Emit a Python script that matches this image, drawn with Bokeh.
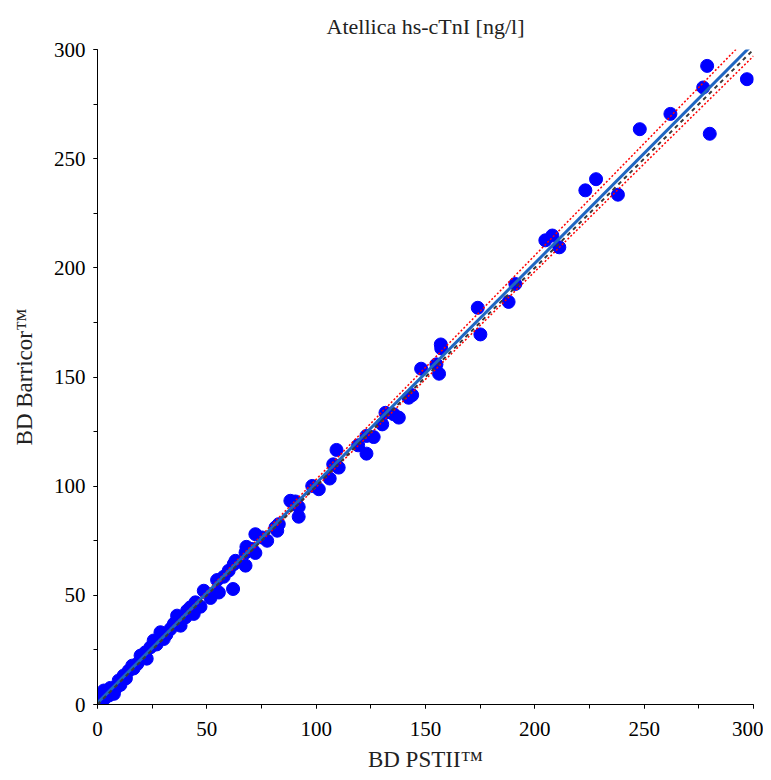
import numpy as np
from bokeh.plotting import figure
from bokeh.models import Range1d, SingleIntervalTicker, ColumnDataSource
from bokeh.embed import file_html
from bokeh.resources import INLINE

# Method comparison data (ng/l): BD PSTII (x) vs BD Barricor (y)
pst_ii = [278.8, 297.0, 277.0, 280.0, 262.0, 248.0, 228.0, 223.1, 238.0, 208.0, 204.8, 211.2,
          191.1, 188.0, 173.9, 175.1, 157.0, 157.2, 148.0, 155.0, 156.2, 143.9, 142.3, 137.8,
          131.7, 135.5, 130.2, 126.3, 123.0, 119.2, 123.0, 109.3, 107.8, 110.3, 106.2, 98.2,
          101.2, 88.2, 90.5, 92.0, 92.0, 82.9, 81.4, 72.2, 77.6, 68.1, 67.7, 72.2, 62.3, 67.7,
          60.0, 54.7, 57.7, 62.0, 48.6, 55.5, 51.7, 44.8, 47.1, 41.0, 36.4, 40.2, 34.9, 38.0,
          82.2, 75.3, 70.7, 63.1, 42.5, 44.0, 35.7, 33.4, 28.8, 30.3, 25.7, 24.2, 21.9, 19.7,
          15.9, 18.2, 14.3, 12.0, 9.7, 8.2, 5.9, 2.9, 2.1, 0.6, 5.2, 7.5, 0.5, 3.0, 1.5, 10.5,
          13.0, 16.5, 22.5, 27.0, 31.5, 37.0]
barricor = [292.5, 286.4, 282.6, 261.4, 270.5, 263.5, 240.6, 235.5, 233.5, 214.8, 212.6, 209.4,
            192.6, 184.4, 181.7, 169.5, 164.9, 163.1, 153.8, 155.8, 151.5, 141.7, 140.5, 131.4,
            133.6, 132.9, 128.3, 122.5, 123.0, 118.7, 114.9, 116.6, 110.0, 108.5, 103.5, 100.1,
            98.6, 93.3, 93.0, 90.5, 86.0, 82.6, 81.1, 78.0, 75.0, 72.2, 69.6, 69.4, 64.3, 63.6,
            61.3, 57.0, 58.5, 52.9, 52.1, 51.3, 48.8, 46.8, 44.8, 43.0, 40.7, 39.9, 36.9, 36.1,
            79.6, 76.5, 71.2, 65.8, 44.5, 41.5, 37.6, 34.6, 33.1, 30.0, 29.3, 26.2, 23.9, 22.4,
            17.8, 18.6, 15.5, 13.3, 11.0, 7.2, 7.6, 6.4, 4.9, 3.3, 4.1, 4.9, 1.8, 2.5, 1.0, 9.0,
            12.0, 16.5, 21.0, 27.5, 32.0, 38.5]

# Regression line, identity line and confidence band (intercept, slope)
regression = (0.7, 1.007)
identity = (0.0, 1.0)
band_upper = (0.5, 1.026)
band_lower = (0.9, 0.987)
line_x = np.array([0.0, 300.0])

title_text = "Atellica hs-cTnI [ng/l]"
x_label = "BD PSTII\u2122"
y_label = "BD Barricor\u2122"
serif = "Liberation Serif"

p = figure(width=763, height=777, x_range=Range1d(0, 300), y_range=Range1d(0, 300),
           output_backend="svg", toolbar_location=None,
           min_border_left=97, min_border_right=10, min_border_top=48, min_border_bottom=73)

p.title.text = title_text
p.title.align = "center"
p.title.text_font = serif
p.title.text_font_style = "normal"
p.title.text_font_size = "22px"
p.title.text_color = "#222222"
p.title.standoff = 22

p.grid.visible = False
p.outline_line_color = None

for ax in (p.xaxis, p.yaxis):
    ax.ticker = SingleIntervalTicker(interval=50, num_minor_ticks=2)
    ax.major_tick_in = 0
    ax.major_tick_out = 4
    ax.minor_tick_in = 0
    ax.minor_tick_out = 4
    ax.axis_line_color = "black"
    ax.major_tick_line_color = "black"
    ax.minor_tick_line_color = "black"
    ax.major_label_text_font = serif
    ax.major_label_text_font_size = "21px"
    ax.major_label_text_color = "black"
    ax.axis_label_text_font = serif
    ax.axis_label_text_font_style = "normal"
    ax.axis_label_text_font_size = "23px"
    ax.axis_label_text_color = "#222222"

p.xaxis.axis_label = x_label
p.yaxis.axis_label = y_label
p.xaxis.major_label_standoff = 13
p.yaxis.major_label_standoff = 8
p.xaxis.axis_label_standoff = 8
p.yaxis.axis_label_standoff = 14

src = ColumnDataSource(dict(x=pst_ii, y=barricor))
p.scatter("x", "y", source=src, size=13, fill_color="#0000ff", line_color="#0000ff")

def line_y(coef):
    return coef[0] + coef[1] * line_x

p.line(line_x, line_y(band_upper), line_color="#ff0000", line_width=1.5, line_dash="2 2")
p.line(line_x, line_y(band_lower), line_color="#ff0000", line_width=1.5, line_dash="2 2")
p.line(line_x, line_y(regression), line_color="#1f66c2", line_width=3)
p.line(line_x, line_y(identity), line_color="#3a3a3a", line_width=2, line_dash="4 4")

open("out.html", "w").write(file_html(p, INLINE))
